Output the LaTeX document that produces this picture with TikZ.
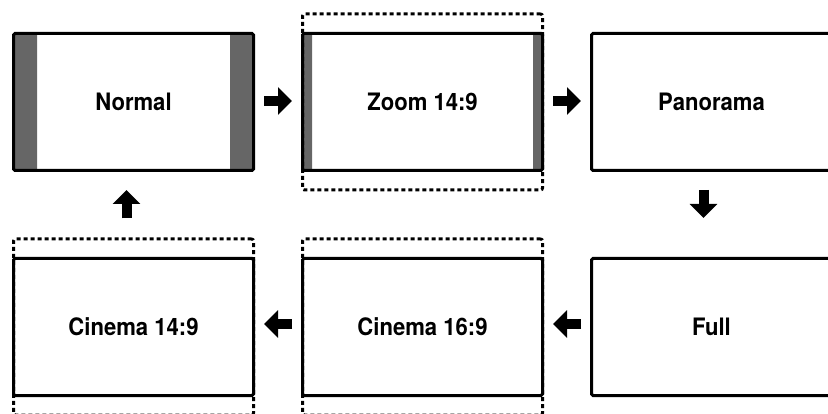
\documentclass[tikz,border=0pt]{standalone}
\usepackage{fontspec}
\setmainfont{TeX Gyre Heros}[FakeStretch=0.92]
\usetikzlibrary{arrows.meta,positioning,fit}
\definecolor{barGray}{HTML}{666666}

\begin{document}
\begin{tikzpicture}[x=1pt, y=-1pt,
  tvbox/.style={draw, line width=3pt, rounded corners=1.5pt, minimum width=240pt, minimum height=137pt,
    inner sep=0pt, font=\fontsize{24}{27}\selectfont\bfseries},
  sidebars/.style={path picture={
    \fill[barGray] (path picture bounding box.north west) rectangle ([xshift=#1]path picture bounding box.south west);
    \fill[barGray] (path picture bounding box.north east) rectangle ([xshift=-#1]path picture bounding box.south east);}},
  letterbox/.style={draw, line width=3pt, dash pattern=on 4pt off 3pt, rounded corners=2pt,
    inner xsep=-1.5pt, inner ysep=18pt},
  flow/.style={line width=10pt, -{Triangle[length=14pt, width=27pt]}, shorten <=9pt, shorten >=9pt}]
\useasboundingbox (0,0) rectangle (828,414);

% Screens, top row
\node[tvbox, sidebars=23.5pt] (normal) at (133.5,102) {Normal};
\node[tvbox, sidebars=9.5pt, right=46pt of normal] (zoom) {Zoom 14:9};
\node[tvbox, right=46pt of zoom] (panorama) {Panorama};
% Screens, bottom row
\node[tvbox, below=85pt of panorama] (full) {Full};
\node[tvbox, left=46pt of full] (cin169) {Cinema 16:9};
\node[tvbox, left=46pt of cin169] (cin149) {Cinema 14:9};

% Dotted frames round the cropped pictures
\node[letterbox, fit=(zoom)] (zoomlb) {};
\node[letterbox, fit=(cin169)] (cin169lb) {};
\node[letterbox, fit=(cin149)] (cin149lb) {};

% Arrows
\draw[flow] ([yshift=1pt]normal.east) -- ([yshift=1pt]zoom.west);
\draw[flow] ([yshift=1pt]zoom.east) -- ([yshift=1pt]panorama.west);
\draw[flow, shorten <=18pt, shorten >=39pt] ([xshift=-8pt]panorama.south) -- ([xshift=-8pt]full.north);
\draw[flow] ([yshift=3pt]full.west) -- ([yshift=3pt]cin169.east);
\draw[flow] ([yshift=3pt]cin169.west) -- ([yshift=3pt]cin149.east);
\draw[flow, shorten <=19pt, shorten >=18pt] ([xshift=-7pt]cin149lb.north) -- ([xshift=-7pt]normal.south);
\end{tikzpicture}
\end{document}
